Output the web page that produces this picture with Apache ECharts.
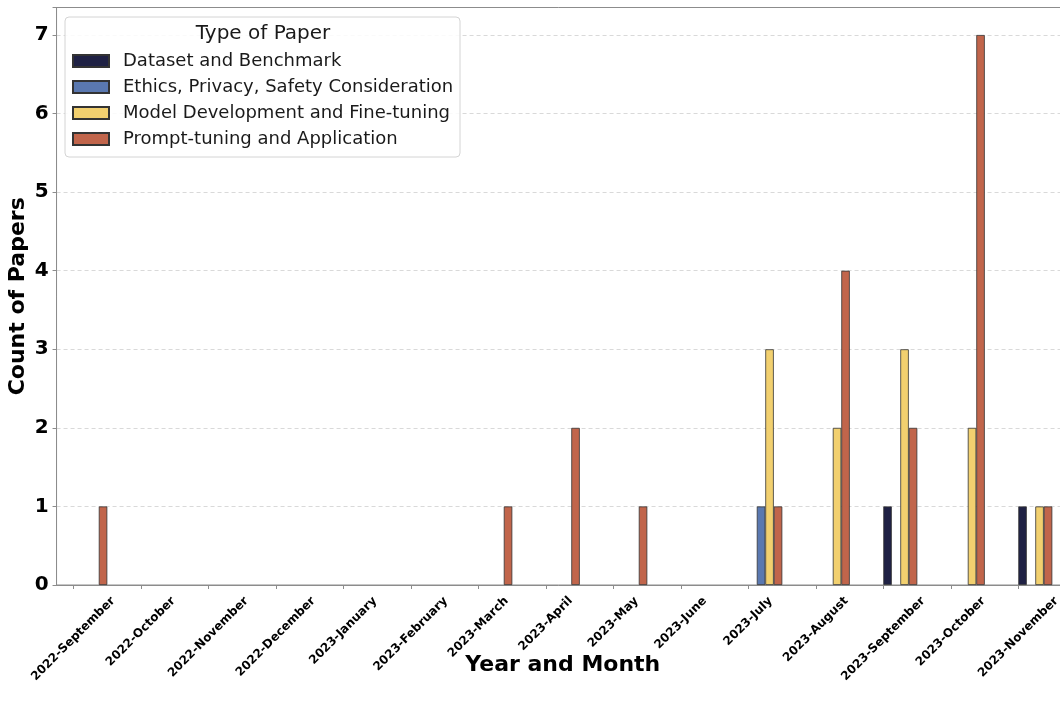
<!DOCTYPE html>
<html>
<head>
<meta charset="utf-8">
<script src="https://cdn.jsdelivr.net/npm/echarts@6/dist/echarts.min.js"></script>
<style>
html,body{margin:0;padding:0;background:#fff;}
#c{width:1060px;height:705px;}
</style>
</head>
<body>
<div id="c"></div>
<script>
const categories = ['2022-September','2022-October','2022-November','2022-December','2023-January','2023-February','2023-March','2023-April','2023-May','2023-June','2023-July','2023-August','2023-September','2023-October','2023-November'];
const seriesNames = ['Dataset and Benchmark','Ethics, Privacy, Safety Consideration','Model Development and Fine-tuning','Prompt-tuning and Application'];
const datasetBenchmark = [0,0,0,0,0,0,0,0,0,0,0,0,1,0,1];
const ethicsPrivacy    = [0,0,0,0,0,0,0,0,0,0,1,0,0,0,0];
const modelDevelopment = [0,0,0,0,0,0,0,0,0,0,3,2,3,2,1];
const promptTuning     = [1,0,0,0,0,0,1,2,1,0,1,4,2,7,1];
const yTicks = [0,1,2,3,4,5,6,7];
const colors = ['#1f2144','#5a78b0','#f2d06f','#c1654b'];

const FONT = '"DejaVu Sans", Verdana, sans-serif';
const chart = echarts.init(document.getElementById('c'), null, {renderer:'canvas'});

// measure label widths to emulate centered rotated labels
const cv = document.createElement('canvas').getContext('2d');
cv.font = 'bold 12px "DejaVu Sans"';
const rich = {};
categories.forEach((c, i) => {
  const w = cv.measureText(c).width;
  const p = w / 2;
  rich['p' + i] = {fontFamily: FONT, fontWeight: 'bold', fontSize: 12, color: '#000', padding: [p, p, 0, 0]};
});

const gridLeft = 56.55, bandW = 67.5, n = categories.length;
const gridW = bandW * n;
const shift = 17;

const allData = [datasetBenchmark, ethicsPrivacy, modelDevelopment, promptTuning];

const option = {
  animation: false,
  backgroundColor: '#fff',
  textStyle: {fontFamily: FONT},
  grid: [
    {left: gridLeft, width: gridW, top: 7.5, bottom: 120, show: true, borderColor: '#8c8c8c', borderWidth: 1, outerBoundsMode: 'none', containLabel: false},
    {left: gridLeft - shift, width: gridW, top: 7.5, bottom: 120, show: false, outerBoundsMode: 'none', containLabel: false}
  ],
  xAxis: [
    {
      type: 'category', gridIndex: 0, data: categories, boundaryGap: true,
      axisLine: {show: true, lineStyle: {color: '#8c8c8c', width: 1}},
      axisTick: {show: false}, axisLabel: {show: false}, splitLine: {show: false},
      name: 'Year and Month', nameLocation: 'middle', nameGap: 69, nameMoveOverlap: false,
      nameTextStyle: {fontFamily: FONT, fontWeight: 'bold', fontSize: 22, color: '#000'}
    },
    {
      type: 'category', gridIndex: 1, data: categories, boundaryGap: true,
      axisLine: {show: false},
      axisTick: {show: true, alignWithLabel: true, length: 4, lineStyle: {color: '#8c8c8c', width: 1}},
      axisLabel: {
        show: true, interval: 0, rotate: 45, margin: 14, align: 'center', verticalAlign: 'middle',
        fontFamily: FONT, fontWeight: 'bold', fontSize: 12, color: '#000',
        formatter: (v, i) => '{p' + i + '|' + v + '}',
        rich: rich
      },
      splitLine: {show: false}
    }
  ],
  yAxis: [
    {
      type: 'value', gridIndex: 0, min: 0, max: 7.35, interval: 1,
      axisLine: {show: true, lineStyle: {color: '#8c8c8c', width: 1}},
      axisTick: {show: true, length: 4, lineStyle: {color: '#8c8c8c'}},
      axisLabel: {fontFamily: FONT, fontWeight: 'bold', fontSize: 20, color: '#000', margin: 8,
        formatter: v => (yTicks.indexOf(v) >= 0 ? String(v) : '')},
      splitLine: {show: true, showMaxLine: false, lineStyle: {color: '#cfcfcf', type: [4, 3], width: 0.8}},
      name: 'Count of Papers', nameLocation: 'middle', nameGap: 27, nameMoveOverlap: false,
      nameTextStyle: {fontFamily: FONT, fontWeight: 'bold', fontSize: 22, color: '#000'}
    },
    {type: 'value', gridIndex: 1, min: 0, max: 7.35, show: false}
  ],
  legend: {
    orient: 'vertical', left: 72, top: 51, z: 6, padding: 0,
    itemWidth: 36, itemHeight: 12, itemGap: 6,
    icon: 'rect',
    textStyle: {fontFamily: FONT, fontSize: 18, color: '#1a1a1a', lineHeight: 20, padding: [0, 0, 0, 9]},
    data: seriesNames
  },
  graphic: [
    {type: 'rect', z: 5, shape: {x: 65, y: 17, width: 395, height: 140, r: 4},
      style: {fill: 'rgba(255,255,255,0.85)', stroke: '#d4d4d4', lineWidth: 1}},
    {type: 'text', z: 7, x: 263, y: 34,
      style: {text: 'Type of Paper', fontFamily: FONT, fontSize: 20, fill: '#1a1a1a', align: 'center', verticalAlign: 'middle'}}
  ],
  series: seriesNames.map((name, k) => ({
    name: name, type: 'bar', xAxisIndex: 0, yAxisIndex: 0,
    data: allData[k].map(v => (v === 0 ? '-' : v)), barWidth: 8.5, barGap: '0%',
    itemStyle: {color: colors[k], borderColor: '#333', borderWidth: 0.8},
    emphasis: {disabled: true}
  }))
};
chart.setOption(option);
</script>
</body>
</html>
